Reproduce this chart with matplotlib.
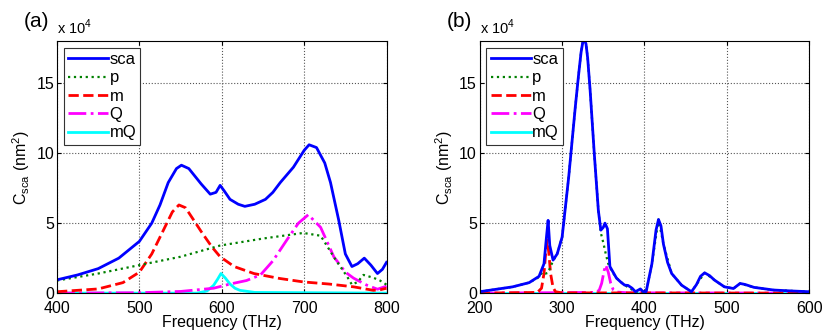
import matplotlib
matplotlib.use('Agg')
import matplotlib.pyplot as plt

plt.rcParams['font.family'] = ['Liberation Sans', 'DejaVu Sans']
plt.rcParams['mathtext.fontset'] = 'custom'
plt.rcParams['mathtext.rm'] = 'Liberation Sans'

# ---- panel (a), values in units of 1e4 nm^2 ----
fa_sca = [400, 425, 450, 475, 500, 515, 525, 535, 545, 551, 560, 575, 586, 593, 598, 603, 610, 620, 628,
          640, 653, 662, 671, 687, 700, 706, 715, 725, 732, 742, 750, 758, 765, 773, 781, 789, 795, 800]
sca_a = [0.95, 1.3, 1.75, 2.5, 3.7, 5.0, 6.3, 7.9, 8.9, 9.14, 8.9, 7.8, 7.07, 7.2, 7.7, 7.3, 6.7, 6.35, 6.2,
         6.35, 6.7, 7.2, 7.9, 9.0, 10.2, 10.6, 10.4, 9.3, 7.9, 5.2, 2.8, 1.9, 2.1, 2.5, 2.0, 1.4, 1.7, 2.2]

fa_p = [400, 450, 500, 550, 598, 650, 699, 720, 738, 752, 758, 765, 772, 784, 792, 800]
p_a = [0.9, 1.4, 2.0, 2.6, 3.4, 3.9, 4.3, 4.1, 2.4, 1.2, 0.6, 0.8, 1.3, 1.1, 0.9, 0.6]

fa_m = [400, 450, 480, 500, 515, 530, 540, 548, 556, 565, 575, 588, 598, 615, 639, 670, 699, 730, 760, 784, 793, 800]
m_a = [0.1, 0.3, 0.75, 1.5, 2.8, 4.6, 5.8, 6.3, 6.1, 5.3, 4.4, 3.3, 2.6, 1.9, 1.4, 1.05, 0.8, 0.65, 0.45, 0.2, 0.25, 0.35]

fa_q = [400, 500, 550, 590, 610, 630, 647, 662, 679, 693, 705, 720, 736, 750, 760, 776, 789, 800]
q_a = [0.0, 0.03, 0.12, 0.35, 0.65, 0.9, 1.3, 2.3, 3.8, 5.0, 5.6, 4.7, 2.6, 1.5, 1.07, 0.57, 0.28, 0.5]

fa_mq = [400, 570, 582, 590, 595, 599, 604, 610, 616, 622, 640, 800]
mq_a = [0.0, 0.0, 0.15, 0.55, 1.0, 1.4, 1.1, 0.65, 0.35, 0.2, 0.05, 0.0]

# ---- panel (b) ----
fb_sca = [200, 240, 260, 272, 278, 281, 283, 285, 289, 294, 300, 308, 316, 320, 323, 325, 327, 329, 331, 334, 339, 344,
          347, 350, 352, 355, 358, 366, 372, 376, 380, 385, 389, 395, 398, 402, 409, 414, 417, 420, 423, 428,
          433, 445, 457, 463, 468, 473, 479, 485, 497, 508, 516, 522, 533, 557, 580, 600]
sca_b = [0.1, 0.45, 0.75, 1.2, 2.1, 4.0, 5.2, 3.4, 2.36, 2.8, 4.0, 8.3, 13.3, 15.6, 17.2, 17.9, 18.1, 17.8, 16.8, 14.5, 10.0, 5.9,
         4.5, 4.7, 5.0, 4.6, 1.9, 1.07, 0.75, 0.57, 0.55, 0.35, 0.1, 0.3, 0.12, 0.1, 2.1, 4.5, 5.26, 4.8, 3.5, 2.2,
         1.4, 0.57, 0.1, 0.6, 1.2, 1.45, 1.25, 0.93, 0.45, 0.33, 0.69, 0.62, 0.41, 0.22, 0.15, 0.1]

fb_p = [200, 240, 260, 272, 276, 280, 283, 286, 289, 294, 300, 308, 316, 320, 323, 325, 327, 329, 331, 334, 339, 344,
        347, 350, 353, 356, 360, 366, 376, 389, 402, 409, 417, 423, 433, 445, 457, 473, 485, 497, 508, 516, 533, 557, 600]
p_b = [0.1, 0.45, 0.75, 1.15, 1.5, 1.4, 1.45, 1.9, 2.3, 2.8, 4.0, 8.3, 13.3, 15.6, 17.2, 17.9, 18.1, 17.8, 16.8, 14.5, 10.0, 5.9,
       4.3, 3.6, 2.8, 2.1, 1.6, 1.07, 0.57, 0.1, 0.1, 2.1, 5.26, 3.5, 1.4, 0.57, 0.1, 1.45, 0.93, 0.45, 0.33, 0.69, 0.41, 0.22, 0.1]

fb_m = [200, 270, 275, 278, 280, 282, 284, 286, 289, 292, 300, 600]
m_b = [0.0, 0.05, 0.35, 1.4, 2.8, 3.8, 2.8, 1.4, 0.4, 0.1, 0.02, 0.0]

fb_q = [200, 340, 345, 348, 351, 353, 356, 359, 362, 366, 380, 600]
q_b = [0.0, 0.05, 0.2, 0.7, 1.6, 2.0, 1.5, 0.7, 0.25, 0.08, 0.02, 0.0]

fb_mq = [200, 600]
mq_b = [0.0, 0.0]

panels = [
    ('(a)', (400, 800), [400, 500, 600, 700, 800],
     [(fa_sca, sca_a), (fa_p, p_a), (fa_m, m_a), (fa_q, q_a), (fa_mq, mq_a)]),
    ('(b)', (200, 600), [200, 300, 400, 500, 600],
     [(fb_sca, sca_b), (fb_p, p_b), (fb_m, m_b), (fb_q, q_b), (fb_mq, mq_b)]),
]

names = ['sca', 'p', 'm', 'Q', 'mQ']
colors = ['#0000ff', '#008000', '#ff0000', '#ff00ff', '#00ffff']
styles = ['-', ':', '--', '-.', '-']
widths = [2.0, 1.6, 2.0, 2.0, 2.0]
order = [4, 3, 2, 1, 0]

fig = plt.figure(figsize=(8.3, 3.35), dpi=100)
lefts = [0.0687, 0.578]

for (tag, xlim, xticks, series), left in zip(panels, lefts):
    ax = fig.add_axes([left, 0.125, 0.397, 0.752])
    lines = [None] * 5
    for i in order:
        x, y = series[i]
        lines[i], = ax.plot(x, y, linestyle=styles[i], color=colors[i], lw=widths[i], label=names[i])
    ax.set_xlim(*xlim)
    ax.set_ylim(0, 18)
    ax.set_xticks(xticks)
    ax.set_yticks([0, 5, 10, 15])
    ax.tick_params(direction='in', top=True, right=True, labelsize=11.5, length=3, pad=2)
    ax.tick_params(axis='x', pad=6)
    ax.grid(True, linestyle=':', color='#555555', lw=0.8)
    ax.set_xlabel('Frequency (THz)', fontsize=11.5, labelpad=-1)
    ax.set_ylabel(r'C$_{\mathrm{sca}}$ (nm$^2$)', fontsize=11.5, labelpad=3)
    ax.text(0.0, 1.015, r'x 10$^4$', transform=ax.transAxes, fontsize=10.5, va='bottom', ha='left')
    leg = ax.legend(lines, names, loc='upper left', fontsize=12, handlelength=2.4, handletextpad=0.1,
                    labelspacing=0.2, borderaxespad=0.4, borderpad=0.25, fancybox=False, framealpha=1)
    leg.get_frame().set_edgecolor('#333333')
    leg.get_frame().set_linewidth(0.8)
    fig.text(left - 0.04, 0.92, tag, fontsize=15)

fig.savefig('out.png', dpi=100)
